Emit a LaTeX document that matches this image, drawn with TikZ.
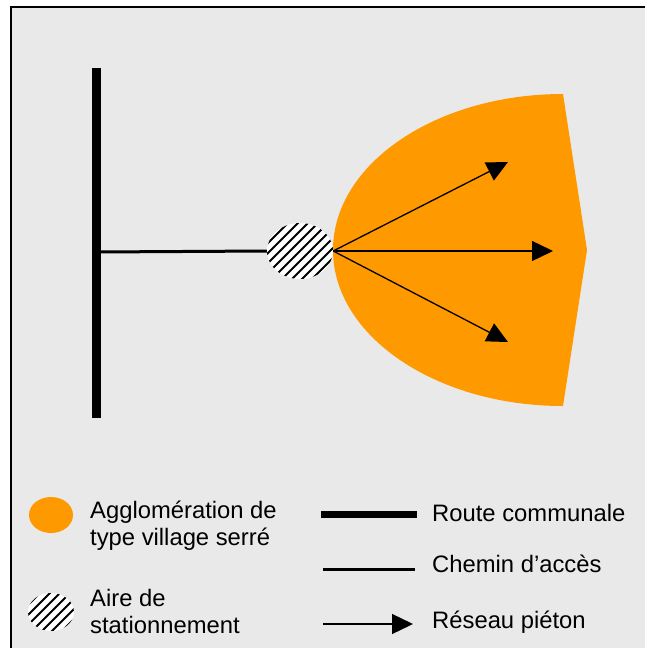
\documentclass[tikz,border=0pt]{standalone}
\usepackage{fontspec}
\setmainfont{Liberation Sans}
\usetikzlibrary{arrows.meta,shapes.geometric}
\definecolor{bggray}{RGB}{233,233,233}
\definecolor{villageorange}{RGB}{255,153,0}
\begin{document}
\begin{tikzpicture}[x=1pt, y=-1pt,
    hatched/.style={fill=white, path picture={
        \foreach \k in {-90,-80,...,90}
          \draw[line width=2.1pt] ([xshift=\k pt]path picture bounding box.center) +(-45pt,-45pt) -- +(45pt,45pt);}},
    legendtext/.style={anchor=base west, inner sep=0pt, align=left, font=\fontsize{23.8}{27}\selectfont},
    route/.style={line width=8.5pt},
    chemin/.style={line width=3pt},
    pieton/.style={line width=1.3pt, -{Triangle[length=21pt,width=20pt]}}]
    % frame
    \clip (0,0) rectangle (645,648);
    \fill[white] (0,0) rectangle (645,648);
    \draw[fill=bggray, line width=1.5pt] (11,7) rectangle (670,670);
    % village
    \fill[villageorange] (563,94) -- (587,250) -- (563,406)
        .. controls (436,406) and (333,336) .. (333,250)
        .. controls (333,164) and (436,94) .. (563,94) -- cycle;
    %nodes
    \coordinate (roadtop) at (96.5,68);
    \coordinate (roadbot) at (96.5,418);
    \coordinate (junction) at (96.5,252);
    \node[ellipse, hatched, minimum width=66pt, minimum height=56pt, inner sep=0pt] at (300,251) (parking) {};
    \coordinate (north) at (508,162);
    \coordinate (east) at (553,251);
    \coordinate (south) at (508,342);
    \draw[route] (roadtop) -- (roadbot);
    \draw[chemin] (junction) -- (parking.west);
    \draw[pieton] (parking.east) -- (north);
    \draw[pieton] (parking.east) -- (east);
    \draw[pieton] (parking.east) -- (south);
    % legend
    \node[ellipse, fill=villageorange, minimum width=44pt, minimum height=36pt, inner sep=0pt] at (51,515) (legvillage) {};
    \node[ellipse, hatched, minimum width=46pt, minimum height=38pt, inner sep=0pt] at (51,612) (legparking) {};
    \node[legendtext] at (90,545) (villagetext) {Agglomération de\\type village serré};
    \node[legendtext] at (90,633) (parkingtext) {Aire de\\stationnement};
    \coordinate (routea) at (321,514);
    \coordinate (routeb) at (417,514);
    \coordinate (chemina) at (323,569);
    \coordinate (cheminb) at (415,569);
    \coordinate (pietona) at (323,624);
    \coordinate (pietonb) at (413,624);
    \draw[route, line width=7pt] (routea) -- (routeb);
    \draw[chemin] (chemina) -- (cheminb);
    \draw[pieton] (pietona) -- (pietonb);
    \node[legendtext] at (432,521) (routetext) {Route communale};
    \node[legendtext] at (432,572) (chemintext) {Chemin d’accès};
    \node[legendtext] at (432,628) (pietontext) {Réseau piéton};
\end{tikzpicture}
\end{document}
